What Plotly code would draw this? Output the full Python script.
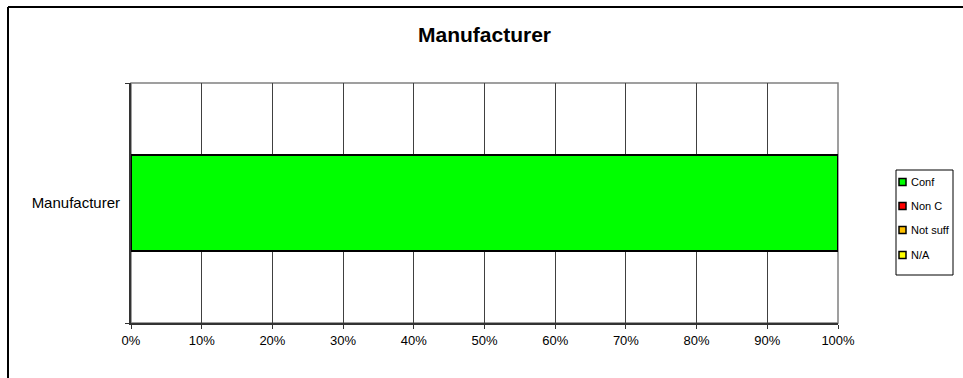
import plotly.graph_objects as go

# Share of answers per rating for the manufacturer
categories = ["Manufacturer"]
series_names = ["Conf", "Non C", "Not suff", "N/A"]
series_values = [[100], [0], [0], [0]]
series_colors = ["#00FF00", "#FF0000", "#FFC000", "#FFFF00"]
tick_values = [0, 10, 20, 30, 40, 50, 60, 70, 80, 90, 100]
tick_labels = ["0%", "10%", "20%", "30%", "40%", "50%", "60%", "70%", "80%", "90%", "100%"]

FONT = "Liberation Sans, Arial, sans-serif"
W, H = 963, 378
L, R, T, B = 131, 125, 83, 55
pw, ph = W - L - R, H - T - B


def px_x(p):
    """pixel column -> paper x"""
    return (p - L) / pw


def px_y(p):
    """pixel row -> paper y"""
    return (H - B - p) / ph


fig = go.Figure()
for name, vals, col in zip(series_names, series_values, series_colors):
    fig.add_trace(go.Bar(
        y=categories, x=vals, name=name, orientation="h",
        marker=dict(color=col, line=dict(color="black", width=2)),
        width=0.4, showlegend=False,
    ))

# outer chart frame (top and left edges)
fig.add_shape(type="line", xref="paper", yref="paper",
              x0=px_x(8), x1=px_x(975), y0=px_y(7), y1=px_y(7),
              line=dict(color="black", width=2))
fig.add_shape(type="line", xref="paper", yref="paper",
              x0=px_x(8), x1=px_x(8), y0=px_y(7), y1=px_y(390),
              line=dict(color="black", width=2))
# plot area frame
fig.add_shape(type="rect", xref="paper", yref="paper",
              x0=0, x1=1, y0=0, y1=1,
              line=dict(color="#808080", width=1.5), layer="below")

# legend box with small square keys
fig.add_shape(type="rect", xref="paper", yref="paper",
              x0=px_x(896), x1=px_x(953), y0=px_y(275), y1=px_y(170),
              line=dict(color="black", width=1), fillcolor="white")
row_y = [182, 206, 230, 255]
for name, col, ry in zip(series_names, series_colors, row_y):
    fig.add_shape(type="rect", xref="paper", yref="paper",
                  x0=px_x(899), x1=px_x(906), y0=px_y(ry + 3.5), y1=px_y(ry - 3.5),
                  line=dict(color="black", width=1.5), fillcolor=col)
    fig.add_annotation(text=name, xref="paper", yref="paper",
                       x=px_x(909), y=px_y(ry), xanchor="left", yanchor="middle",
                       showarrow=False, font=dict(size=11, family=FONT, color="black"))

fig.update_layout(
    width=W, height=H,
    margin=dict(l=L, r=R, t=T, b=B, autoexpand=False),
    barmode="stack",
    paper_bgcolor="white", plot_bgcolor="white",
    font=dict(family=FONT, size=13, color="black"),
    title=dict(text="<b>Manufacturer</b>", x=0.5, xref="paper", xanchor="center",
               y=1 - 35 / H, yref="container", yanchor="middle",
               font=dict(size=21, family=FONT, color="black")),
    xaxis=dict(range=[0, 100], tickvals=tick_values, ticktext=tick_labels,
               showgrid=True, gridcolor="#404040", gridwidth=1,
               showline=True, linecolor="#333333", linewidth=2,
               ticks="outside", ticklen=4, tickcolor="#333333",
               zeroline=False, fixedrange=True,
               tickfont=dict(size=13)),
    yaxis=dict(type="category", range=[-0.5, 0.5], showgrid=False,
               showline=True, linecolor="#333333", linewidth=2,
               ticks="outside", ticklen=4, tickcolor="#333333", tickson="boundaries",
               ticklabelstandoff=6, tickfont=dict(size=15), fixedrange=True),
    showlegend=False,
)

fig.write_html("out.html")
